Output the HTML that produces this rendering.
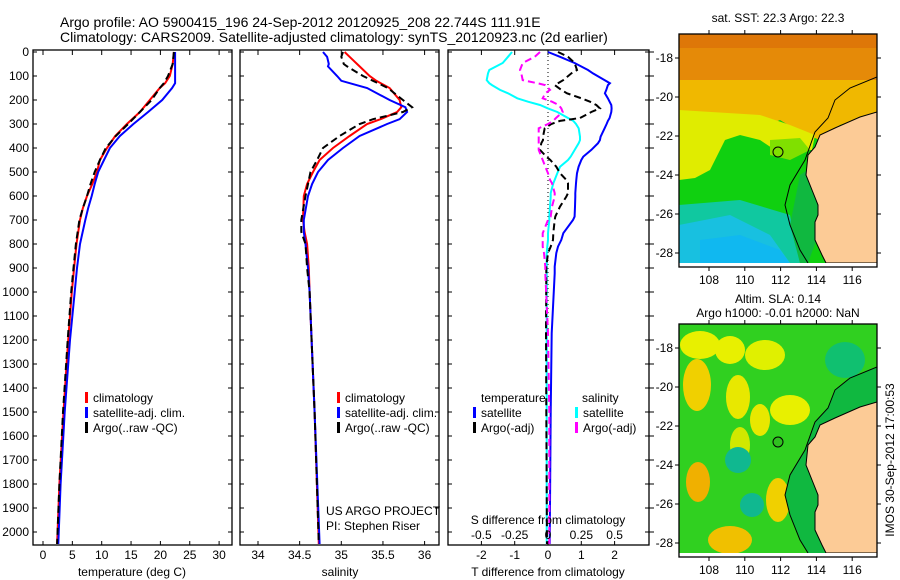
<!DOCTYPE html>
<html><head><meta charset="utf-8"><style>
html,body{margin:0;padding:0;background:#fff;}
svg{display:block;font-family:"Liberation Sans",sans-serif;}
</style></head><body>
<svg id="fig" width="900" height="580" viewBox="0 0 900 580" xmlns="http://www.w3.org/2000/svg">
<text x="60" y="27" font-size="14">Argo profile: AO 5900415_196 24-Sep-2012 20120925_208 22.744S 111.91E</text>
<text x="60" y="42" font-size="14">Climatology: CARS2009. Satellite-adjusted climatology: synTS_20120923.nc (2d earlier)</text>
<g id="panels"></g>
<g id="maps"></g>
</svg>
<script>
// ---------- data ----------
const depthTicks = [0,100,200,300,400,500,600,700,800,900,1000,1100,1200,1300,1400,1500,1600,1700,1800,1900,2000];
const tempDepth = [0,50,100,130,150,200,250,300,350,400,450,500,550,600,650,700,800,900,1000,1200,1500,1800,2050];
const tempClim  = [22.3,22.1,21.6,20.8,19.9,18.2,16.5,14.3,12.3,10.9,9.7,9.2,8.4,7.5,6.8,6.3,5.7,5.3,4.9,4.3,3.5,2.8,2.4];
const tempSat   = [22.5,22.5,22.5,22.5,22.0,20.3,17.9,15.4,13.1,11.4,10.4,9.4,8.8,8.3,7.7,7.2,6.3,5.8,5.4,4.6,3.7,3.0,2.6];
const tempArgo  = [22.3,22.1,21.3,20.6,19.9,18.5,16.5,14.5,12.4,10.7,9.7,8.8,8.1,7.5,6.8,6.2,5.6,5.2,4.8,4.2,3.4,2.8,2.4];
const salDepth = [0,20,50,60,100,120,150,200,230,250,280,300,350,400,450,500,550,600,700,750,800,900,1000,1500,2050];
const salClim  = [35.04,35.1,35.19,35.22,35.34,35.42,35.58,35.70,35.72,35.67,35.47,35.31,35.1,34.9,34.74,34.66,34.59,34.55,34.54,34.56,34.59,34.61,34.62,34.68,34.73];
const salSat   = [34.78,34.83,34.85,34.84,34.95,35.0,35.31,35.58,35.77,35.79,35.70,35.55,35.22,35.02,34.84,34.72,34.65,34.60,34.55,34.55,34.57,34.60,34.62,34.68,34.74];
const salArgo  = [35.02,35.0,35.03,35.07,35.26,35.38,35.56,35.74,35.85,35.74,35.38,35.22,34.98,34.78,34.71,34.63,34.60,34.57,34.52,34.52,34.57,34.59,34.62,34.68,34.73];
const diffDepth = [0,20,46,75,89,117,130,138,158,172,193,207,221,235,250,275,287,300,318,353,367,380,408,436,450,478,505,533,547,588,603,644,686,700,755,783,811,838,894,922,1172,1500,2050];
const dTsat  = [0,0.36,0.8,1.2,1.35,1.7,1.86,1.8,1.75,1.71,1.8,1.85,1.9,1.91,1.9,1.85,1.8,1.76,1.7,1.58,1.56,1.5,1.3,1.06,1.0,0.92,0.87,0.85,0.84,0.82,0.82,0.81,0.8,0.75,0.46,0.4,0.3,0.25,0.2,0.2,0.11,0.08,0.05];
const dTargo = [0.3,0.6,0.8,0.87,0.7,0.46,0.3,0.2,0.4,0.57,1.0,1.26,1.45,1.56,1.3,0.96,0.36,0.1,-0.1,-0.15,-0.15,-0.2,-0.24,-0.05,0.07,0.25,0.36,0.55,0.6,0.6,0.55,0.36,0.22,0.2,0.16,0.15,0.08,0.0,-0.05,-0.05,-0.06,-0.05,-0.03];
const dSsat  = [-0.27,-0.3,-0.34,-0.44,-0.45,-0.46,-0.44,-0.42,-0.36,-0.3,-0.23,-0.15,-0.06,0.0,0.07,0.15,0.19,0.21,0.23,0.24,0.24,0.23,0.2,0.17,0.15,0.09,0.07,0.05,0.04,0.02,0.02,0.015,0.01,0.01,0.0,0.0,-0.005,-0.01,-0.01,-0.01,-0.01,-0.01,-0.01];
const dSargo = [-0.06,-0.1,-0.19,-0.21,-0.2,-0.19,-0.08,-0.02,0.015,-0.02,-0.04,0.03,0.08,0.1,0.11,0.06,0.04,0.0,-0.07,-0.07,-0.07,-0.07,-0.07,-0.05,-0.04,-0.02,0.0,0.015,0.03,0.05,0.05,0.03,0.02,0.0,-0.04,-0.04,-0.04,-0.03,-0.02,-0.02,0.0,0.01,0.01];
const tTickVals = [0,5,10,15,20,25,30];
const sTickVals = [34,34.5,35,35.5,36];
const dTTickVals = [-2,-1,0,1,2];
const dSTickVals = [-0.5,-0.25,0,0.25,0.5];
const dSTickLabels = ["-0.5","-0.25","0","0.25","0.5"];
const lonTicks = [108,110,112,114,116];
const latTicks = [-18,-20,-22,-24,-26,-28];

// ---------- helpers ----------
const NS = "http://www.w3.org/2000/svg";
function mk(tag, attrs, parent){const e=document.createElementNS(NS,tag);for(const k in attrs)e.setAttribute(k,attrs[k]);parent.appendChild(e);return e;}
const P = document.getElementById('panels');
const TOP=52, BOT=545;
const yD = d => TOP + d*0.24;
const xT = t => 43 + t*5.87;
const xS = s => 258 + (s-34)*83.3;
const xDT = t => 548 + t*33.3;
const xDS = s => 548 + s*133.3;

function frame(x0,x1,name){
  const r = mk('rect',{x:x0,y:TOP-2,width:x1-x0,height:BOT-TOP+2,fill:'none',stroke:'#000','stroke-width':1.3},P);
  
  
  return r;
}
function yTicks(x0,x1,labels,right){
  depthTicks.forEach(d=>{
    const y=yD(d);
    mk('line',{x1:x0,y1:y,x2:x0+4,y2:y,stroke:'#000'},P);
    mk('line',{x1:x1-4,y1:y,x2:x1,y2:y,stroke:'#000'},P);
    if(right) mk('line',{x1:x1,y1:y,x2:x1+5,y2:y,stroke:'#000'},P);
    if(labels){
      const t=mk('text',{x:x0-4,y:y+4,'font-size':12,'text-anchor':'end'},P);
      t.textContent=d;
      
      
    }
  });
}
function xTicks(vals,fx,labels,ly){
  vals.forEach((v,i)=>{
    const x=fx(v);
    mk('line',{x1:x,y1:TOP-2,x2:x,y2:TOP+3,stroke:'#000'},P);
    mk('line',{x1:x,y1:BOT-4,x2:x,y2:BOT,stroke:'#000'},P);
    const t=mk('text',{x:x,y:ly,'font-size':12,'text-anchor':'middle'},P);
    t.textContent=labels?labels[i]:v;
    
    
  });
}
function line(xs,ds,fx,color,dash,name,w){
  const pts = xs.map((v,i)=>fx(v).toFixed(1)+','+yD(ds[i]).toFixed(1)).join(' ');
  const a={points:pts,fill:'none',stroke:color,'stroke-width':w||2};
  if(dash) a['stroke-dasharray']=dash;
  const pl=mk('polyline',a,P);
  
  
}
function txt(x,y,s,name,size,anchor){
  const t=mk('text',{x:x,y:y,'font-size':size||12,'text-anchor':anchor||'start'},P);
  t.textContent=s;
  
  
  return t;
}
function legend(x,y,color,label,name){
  mk('rect',{x:x,y:y-10,width:3,height:11,fill:color},P);
  txt(x+8,y,label,name);
}

// Panel 1 temperature
frame(33,232,'temperature-panel');
yTicks(33,232,true,false);
xTicks(tTickVals,xT,null,559);
line(tempClim,tempDepth,xT,'#f00',null,'temperature-climatology-line');
line(tempSat,tempDepth,xT,'#00f',null,'temperature-satellite-line');
line(tempArgo,tempDepth,xT,'#000','7,4','temperature-argo-line');
txt(132,576,'temperature (deg C)','temperature-axis-title',12,'middle');
legend(85,402,'#f00','climatology','legend-climatology');
legend(85,417,'#00f','satellite-adj. clim.','legend-satellite');
legend(85,432,'#000','Argo(..raw -QC)','legend-argo');

// Panel 2 salinity
frame(240,439,'salinity-panel');
yTicks(240,439,false,false);
xTicks(sTickVals,xS,null,559);
line(salClim,salDepth,xS,'#f00',null,'salinity-climatology-line');
line(salSat,salDepth,xS,'#00f',null,'salinity-satellite-line');
line(salArgo,salDepth,xS,'#000','7,4','salinity-argo-line');
txt(340,576,'salinity','salinity-axis-title',12,'middle');
legend(337,402,'#f00','climatology','legend-sal-climatology');
legend(337,417,'#00f','satellite-adj. clim.','legend-sal-satellite');
legend(337,432,'#000','Argo(..raw -QC)','legend-sal-argo');
txt(326,515,'US ARGO PROJECT','us-argo-project-note');
txt(326,530,'PI: Stephen Riser','pi-note');

// Panel 3 differences
frame(448,649,'difference-panel');
yTicks(448,649,false,true);
xTicks(dTTickVals,xDT,null,559);
mk('line',{x1:548,y1:TOP,x2:548,y2:330,stroke:'#000','stroke-dasharray':'1,3'},P);
line(dTsat,diffDepth,xDT,'#00f',null,'t-diff-satellite-line');
line(dSsat,diffDepth,xDS,'#0ff',null,'s-diff-satellite-line');
line(dTargo,diffDepth,xDT,'#000','7,4','t-diff-argo-line');
line(dSargo,diffDepth,xDS,'#f0f','7,4','s-diff-argo-line');
txt(481,402,'temperature','legend-temperature-heading');
legend(473,417,'#00f','satellite','legend-t-satellite');
legend(473,432,'#000','Argo(-adj)','legend-t-argo');
txt(582,402,'salinity','legend-salinity-heading');
legend(575,417,'#0ff','satellite','legend-s-satellite');
legend(575,432,'#f0f','Argo(-adj)','legend-s-argo');
txt(548,524,'S difference from climatology','s-diff-axis-title',12,'middle');
dSTickVals.forEach((v,i)=>{txt(xDS(v),539,dSTickLabels[i],'s-diff-tick-label',12,'middle');});
txt(548,576,'T difference from climatology','t-diff-axis-title',12,'middle');

// ---------- maps ----------
const M = document.getElementById('maps');
function drawMap(oy, kind){
  const g = mk('g',{},M);
  
  
  const cp = 'clip'+kind;
  const cl = mk('clipPath',{id:cp},g);
  mk('rect',{x:679,y:34+oy,width:198,height:229},cl);
  const c = mk('g',{'clip-path':'url(#'+cp+')'},g);
  if(kind==='sst'){
    mk('rect',{x:679,y:34,width:198,height:229,fill:'#10d010'},c);
    mk('rect',{x:679,y:34,width:198,height:50,fill:'#e58a08'},c);
    mk('polygon',{points:'679,80 877,80 877,112 840,125 820,140 800,132 780,120 760,128 740,135 720,140 700,150 679,180',fill:'#f0b800'},c);
    mk('polygon',{points:'679,110 760,115 790,125 815,135 812,150 800,150 790,140 775,150 760,140 740,135 725,140 710,170 695,178 679,180',fill:'#e0ec00'},c);
    mk('polygon',{points:'770,140 800,138 810,150 790,160 770,155',fill:'#80e000'},c);
    mk('polygon',{points:'679,205 740,200 790,215 800,263 679,263',fill:'#10c8a0'},c);
    mk('polygon',{points:'679,225 730,215 770,235 790,263 679,263',fill:'#18c0e0'},c);
    mk('polygon',{points:'700,240 740,235 780,250 790,263 700,263',fill:'#10b8f0'},c);
    mk('rect',{x:679,y:34,width:198,height:14,fill:'#d86a08',opacity:0.6},c);
    mk('polygon',{points:'800,175 815,165 820,230 808,263 800,263 790,225',fill:'#10b840'},c);
  } else {
    mk('rect',{x:679,y:324,width:198,height:229,fill:'#30d020'},c);
    [[697,385,14,26,'#f0d000'],[698,482,12,20,'#f0b000'],[738,397,12,22,'#e8e800'],[740,445,10,18,'#d0e800'],[760,420,10,16,'#e8e800'],[778,500,12,22,'#f0d000'],[790,410,20,15,'#e8f000'],[730,540,22,14,'#f0c000'],[765,355,20,15,'#e0f000'],[700,345,20,14,'#e8f000'],[730,350,15,14,'#e8f000'],[845,360,20,18,'#10c070']].forEach(b=>{
      mk('ellipse',{cx:b[0],cy:b[1],rx:b[2],ry:b[3],fill:b[4]},c);
    });
    mk('ellipse',{cx:738,cy:460,rx:13,ry:13,fill:'#10b890'},c);
    mk('ellipse',{cx:752,cy:505,rx:12,ry:12,fill:'#10b890'},c);
    const sh = [[877,77],[850,88],[835,100],[828,118],[815,132],[805,160],[790,185],[785,205],[790,225],[800,250],[808,263],[877,263]].map(p=>p[0]+','+(p[1]+oy)).join(' ');
    mk('polygon',{points:sh,fill:'#10b840'},c);
  }
  mk('polyline',{points:[[877,77],[850,88],[835,100],[828,118],[815,132],[805,160],[790,185],[785,205],[790,225],[800,250],[808,263]].map(p=>p[0]+','+(p[1]+oy)).join(' '),fill:'none',stroke:'#000','stroke-width':1},c);
  const land = [[877,112],[860,117],[835,128],[820,135],[815,147],[808,155],[806,175],[812,190],[818,205],[818,215],[815,222],[815,240],[822,255],[826,263],[877,263]].map(p=>p[0]+','+(p[1]+oy)).join(' ');
  const lp = mk('polygon',{points:land,fill:'#fccb96',stroke:'#000','stroke-width':1},c);
  
  
  mk('rect',{x:679,y:263+oy,width:198,height:4,fill:'#fff'},g);
  const ci = mk('circle',{cx:778,cy:152+oy,r:5,fill:kind==='sst'?'none':'#30c020',stroke:'#000','stroke-width':1},g);
  
  
  const fr = mk('rect',{x:679,y:34+oy,width:198,height:233,fill:'none',stroke:'#000','stroke-width':1.3},g);
  
  
  lonTicks.forEach(l=>{
    const x = 709 + (l-108)*17.9;
    mk('line',{x1:x,y1:34+oy,x2:x,y2:30+oy,stroke:'#000'},g);
    mk('line',{x1:x,y1:267+oy,x2:x,y2:271+oy,stroke:'#000'},g);
    const t=mk('text',{x:x,y:284+oy,'font-size':12,'text-anchor':'middle'},g);
    t.textContent=l;
    
    
  });
  latTicks.forEach(l=>{
    const y = 58 + (-18-l)*19.5 + oy;
    mk('line',{x1:675,y1:y,x2:679,y2:y,stroke:'#000'},g);
    mk('line',{x1:877,y1:y,x2:881,y2:y,stroke:'#000'},g);
    const t=mk('text',{x:673,y:y+4,'font-size':12,'text-anchor':'end'},g);
    t.textContent=l;
    
    
  });
}
drawMap(0,'sst');
drawMap(290,'sla');
const mt = [[778,22,'sat. SST: 22.3 Argo: 22.3','sst-map-title'],[778,303,'Altim. SLA: 0.14','sla-map-title'],[778,317,'Argo h1000: -0.01 h2000: NaN','argo-height-title']];
mt.forEach(m=>{
  const t=mk('text',{x:m[0],y:m[1],'font-size':12,'text-anchor':'middle'},M);
  t.textContent=m[2];
  
  
});
const st=mk('text',{x:894,y:460,'font-size':12,'text-anchor':'middle',transform:'rotate(-90 894 460)'},M);
st.textContent='IMOS 30-Sep-2012 17:00:53';


</script>
</body></html>
